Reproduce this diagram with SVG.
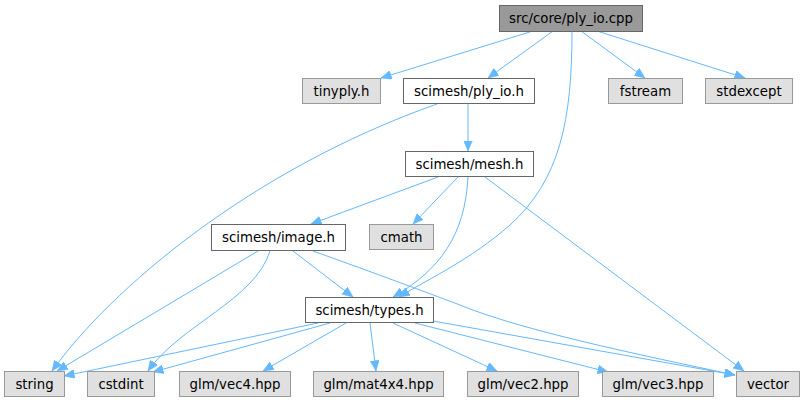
<svg xmlns="http://www.w3.org/2000/svg" width="805" height="403" viewBox="0 0 805 403">
<style>
.n rect{stroke-width:1}
.root rect{fill:#999999;stroke:#666666}
.loc rect{fill:#ffffff;stroke:#666666}
.ext rect{fill:#e0e0e0;stroke:#999999}
text{font-family:"DejaVu Sans","Liberation Sans",sans-serif;font-size:13.3px;fill:#000;text-anchor:middle}
.e path{fill:none;stroke:#63b8ff;stroke-width:1;marker-end:url(#ah)}
</style>
<defs>
<marker id="ah" markerUnits="userSpaceOnUse" markerWidth="11" markerHeight="9" refX="10.5" refY="4.5" orient="auto">
<path d="M0,0 L10.5,4.5 L0,9 z" fill="#63b8ff" stroke="#63b8ff" stroke-width="0.5"/>
</marker>
</defs>
<g id="edges" class="e">
<path d="M533,31 L381,78"/>
<path d="M553,31 L488,78"/>
<path d="M572,31 C572,120 560,180 510,225 C470,260 430,278 399,297"/>
<path d="M581,31 L645,78"/>
<path d="M597,31 L745,78"/>
<path d="M468,104 L468,151"/>
<path d="M437,104 C250,170 110,290 52,371"/>
<path d="M438,177 L311,224"/>
<path d="M458,177 L413,224"/>
<path d="M468,177 C465,235 440,270 393,297"/>
<path d="M485,177 L744,371"/>
<path d="M258,251 L57,371"/>
<path d="M270,251 C255,300 180,325 148,371"/>
<path d="M293,251 L353,297"/>
<path d="M313,251 C380,275 420,290 460,305 C520,330 640,355 735,375"/>
<path d="M318,323 L64,376"/>
<path d="M330,323 L153,372"/>
<path d="M346,323 L263,371"/>
<path d="M370,323 L376,371"/>
<path d="M393,323 L497,371"/>
<path d="M415,323 L608,372"/>
<path d="M433,321 L735,375"/>
</g>
<g id="ply_io_cpp" class="n root"><rect x="499.5" y="5.5" width="143" height="26"/><text x="571" y="23">src/core/ply_io.cpp</text></g>
<g id="tinyply_h" class="n ext"><rect x="302.5" y="78.5" width="78" height="25"/><text x="341.5" y="96">tinyply.h</text></g>
<g id="scimesh_ply_io_h" class="n loc"><rect x="403.5" y="78.5" width="131" height="25"/><text x="469" y="96">scimesh/ply_io.h</text></g>
<g id="fstream" class="n ext"><rect x="608.5" y="78.5" width="74" height="25"/><text x="645.5" y="96">fstream</text></g>
<g id="stdexcept" class="n ext"><rect x="705.5" y="78.5" width="87" height="25"/><text x="749" y="96">stdexcept</text></g>
<g id="scimesh_mesh_h" class="n loc"><rect x="405.5" y="151.5" width="128" height="25"/><text x="469.5" y="169">scimesh/mesh.h</text></g>
<g id="cmath" class="n ext"><rect x="369.5" y="224.5" width="64" height="25"/><text x="401.5" y="242">cmath</text></g>
<g id="scimesh_image_h" class="n loc"><rect x="211.5" y="224.5" width="134" height="26"/><text x="278.5" y="242">scimesh/image.h</text></g>
<g id="scimesh_types_h" class="n loc"><rect x="305.5" y="297.5" width="128" height="25"/><text x="369.5" y="315">scimesh/types.h</text></g>
<g id="string" class="n ext"><rect x="4.5" y="371.5" width="60" height="25"/><text x="34.5" y="389">string</text></g>
<g id="cstdint" class="n ext"><rect x="87.5" y="371.5" width="67" height="25"/><text x="121" y="389">cstdint</text></g>
<g id="glm_vec4" class="n ext"><rect x="179.5" y="371.5" width="111" height="25"/><text x="235" y="389">glm/vec4.hpp</text></g>
<g id="glm_mat4x4" class="n ext"><rect x="313.5" y="371.5" width="130" height="25"/><text x="378.5" y="389">glm/mat4x4.hpp</text></g>
<g id="glm_vec2" class="n ext"><rect x="467.5" y="371.5" width="111" height="25"/><text x="523" y="389">glm/vec2.hpp</text></g>
<g id="glm_vec3" class="n ext"><rect x="602.5" y="371.5" width="111" height="25"/><text x="658" y="389">glm/vec3.hpp</text></g>
<g id="vector" class="n ext"><rect x="736.5" y="371.5" width="63" height="25"/><text x="768" y="389">vector</text></g>
</svg>
